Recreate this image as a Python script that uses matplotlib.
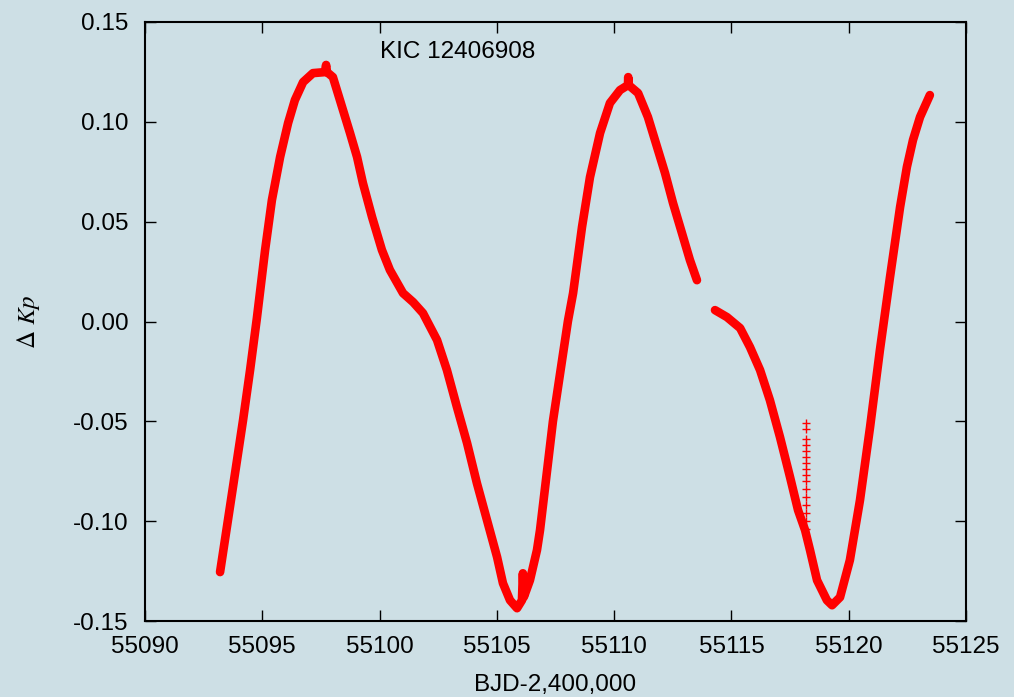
import matplotlib
matplotlib.use("Agg")
import matplotlib.pyplot as plt

# ---- data ----
seg1_x = [55093.20, 55093.75, 55094.18, 55094.48, 55094.77, 55095.12, 55095.41, 55095.76,
          55096.10, 55096.39, 55096.74, 55097.16, 55097.67, 55097.72, 55097.76, 55098.01,
          55098.31, 55098.74, 55099.04, 55099.29, 55099.68, 55100.10, 55100.44, 55101.00,
          55101.43, 55101.85, 55102.45, 55102.87, 55103.30, 55103.73, 55104.15, 55104.58,
          55105.01, 55105.26, 55105.56, 55105.86, 55106.07, 55106.11, 55106.15, 55106.41,
          55106.71, 55106.84, 55107.39, 55108.03, 55108.25, 55108.63, 55108.97, 55109.40,
          55109.82, 55110.25, 55110.59, 55110.60, 55110.62, 55111.02, 55111.44, 55111.83,
          55112.17, 55112.51, 55112.89, 55113.23, 55113.53]
seg1_y = [-0.1255, -0.0829, -0.0494, -0.0243, 0.0017, 0.0358, 0.0608, 0.0824,
          0.0994, 0.1109, 0.1199, 0.1244, 0.1249, 0.1285, 0.1249, 0.1224,
          0.1109, 0.0944, 0.0824, 0.0693, 0.0523, 0.0358, 0.0258, 0.0142,
          0.0097, 0.0042, -0.0093, -0.0243, -0.0429, -0.0609, -0.0810, -0.0995,
          -0.1180, -0.1311, -0.1396, -0.1436, -0.1396, -0.1261, -0.1380, -0.1296,
          -0.1145, -0.1045, -0.0500, 0.0002, 0.0142, 0.0473, 0.0723, 0.0944,
          0.1094, 0.1159, 0.1184, 0.1224, 0.1184, 0.1144, 0.1024, 0.0874,
          0.0743, 0.0593, 0.0443, 0.0308, 0.0207]

seg2_x = [55114.30, 55114.81, 55115.37, 55115.79, 55116.22, 55116.64, 55117.07, 55117.50,
          55117.84, 55118.14, 55118.35, 55118.65, 55119.07, 55119.29, 55119.63, 55120.05,
          55120.48, 55120.91, 55121.33, 55121.76, 55122.19, 55122.48, 55122.74, 55123.04,
          55123.46]
seg2_y = [0.0057, 0.0022, -0.0033, -0.0128, -0.0243, -0.0394, -0.0579, -0.0780,
          -0.0945, -0.1045, -0.1145, -0.1296, -0.1396, -0.1421, -0.1381, -0.1195,
          -0.0895, -0.0529, -0.0143, 0.0222, 0.0573, 0.0774, 0.0909, 0.1024,
          0.1134]

spike_x = [55118.18] * 16
spike_y = [-0.051, -0.054, -0.059, -0.062, -0.065, -0.068, -0.071, -0.074,
           -0.077, -0.080, -0.084, -0.088, -0.092, -0.096, -0.100, -0.104]

x_ticks = [55090, 55095, 55100, 55105, 55110, 55115, 55120, 55125]
y_ticks = [-0.15, -0.10, -0.05, 0.00, 0.05, 0.10, 0.15]
y_ticklabels = ["-0.15", "-0.10", "-0.05", "0.00", "0.05", "0.10", "0.15"]

title_text = "KIC 12406908"
x_label = "BJD-2,400,000"
y_label = r"$\Delta\ Kp$"

# ---- style ----
bg = "#cddfe5"
red = "#ff0000"
plt.rcParams["font.family"] = ["Liberation Sans", "DejaVu Sans"]
plt.rcParams["mathtext.fontset"] = "stix"

fig = plt.figure(figsize=(10.14, 6.97), dpi=100, facecolor=bg)
ax = fig.add_axes([145 / 1014, 1 - 621 / 697, (966 - 145) / 1014, (621 - 22) / 697])
ax.set_facecolor(bg)

for xs, ys in ((seg1_x, seg1_y), (seg2_x, seg2_y)):
    ax.plot(xs, ys, color=red, lw=6.2, solid_capstyle="round", solid_joinstyle="round")
ax.plot(spike_x, spike_y, ls="none", marker="+", ms=6, mew=1.0, color=red)

ax.set_xlim(55090, 55125)
ax.set_ylim(-0.15, 0.15)
ax.set_xticks(x_ticks)
ax.set_xticklabels([str(v) for v in x_ticks])
ax.set_yticks(y_ticks)
ax.set_yticklabels(y_ticklabels)
ax.tick_params(direction="in", length=8, width=1.0, top=True, right=True,
               labelsize=17.5, colors="black")
ax.tick_params(axis="y", pad=12)
ax.tick_params(axis="x", pad=11)
for s in ax.spines.values():
    s.set_linewidth(1.5)
    s.set_color("black")

ax.text(55100.0, 0.135, title_text, fontsize=17.5, ha="left", va="center")
ax.set_xlabel(x_label, fontsize=17.5, labelpad=11.5)
fig.text(28 / 1014, 1 - 322 / 697, y_label, fontsize=18, rotation=90,
         ha="center", va="center")

fig.savefig("out.png", dpi=100, facecolor=bg)
